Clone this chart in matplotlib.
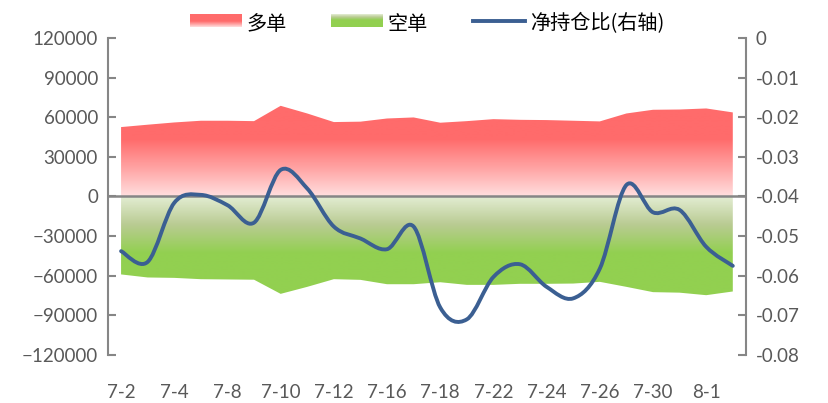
import numpy as np
import matplotlib
matplotlib.use("Agg")
import matplotlib.pyplot as plt
from matplotlib.path import Path
from matplotlib.patches import PathPatch
from matplotlib.colors import LinearSegmentedColormap

plt.rcParams['font.family'] = ['Lato', 'Noto Sans CJK SC', 'DejaVu Sans']

# data
dates = ["7-2", "7-3", "7-4", "7-5", "7-8", "7-9", "7-10", "7-11", "7-12", "7-15",
         "7-16", "7-17", "7-18", "7-19", "7-22", "7-23", "7-24", "7-25", "7-26", "7-29",
         "7-30", "7-31", "8-1", "8-2"]
long_pos = [52500, 54300, 56000, 57300, 57300, 57000, 68600, 62800, 56300, 56600,
            59000, 59800, 55800, 57000, 58500, 58000, 57800, 57300, 56800, 62800,
            65600, 65800, 66600, 63600]
short_pos = [-59000, -61300, -61600, -62600, -62800, -63000, -73700, -68400, -62600, -63100,
             -66400, -66400, -64900, -66900, -66900, -66100, -66100, -65900, -64600, -68400,
             -72400, -72800, -74700, -71900]
net_ratio = [-0.0538, -0.0565, -0.0416, -0.0396, -0.0422, -0.0466, -0.0333, -0.0380, -0.0476, -0.0506,
             -0.0533, -0.0476, -0.0680, -0.0710, -0.0603, -0.0571, -0.0628, -0.0657, -0.0582, -0.0371,
             -0.0440, -0.0434, -0.0527, -0.0575]
legend_labels = ["多单", "空单", "净持仓比(右轴)"]

x = np.arange(len(dates))
grey = "#595959"
axis_grey = "#868686"
line_color = "#3B5F92"

fig = plt.figure(figsize=(8.29, 4.03), dpi=100)
ax = fig.add_axes([0.130, 0.119, 0.770, 0.787])
ax.set_xlim(-0.5, len(dates) - 0.5)
ax.set_ylim(-120000, 120000)

# gradient fills clipped to the area shapes
red_cmap = LinearSegmentedColormap.from_list("r", [(0, "#FFDEDE"), (0.45, "#FFA8A8"), (1, "#FF6B6B")])
green_cmap = LinearSegmentedColormap.from_list("g", [(0, "#E3EDD3"), (0.5, "#B9CB92"), (1, "#92D050")])

def grad_area(vals, cmap, top):
    verts = [(x[0], 0)] + list(zip(x, vals)) + [(x[-1], 0), (x[0], 0)]
    codes = [Path.MOVETO] + [Path.LINETO] * (len(verts) - 2) + [Path.CLOSEPOLY]
    patch = PathPatch(Path(verts, codes), facecolor="none", edgecolor="none", transform=ax.transData)
    ax.add_patch(patch)
    g = np.clip(np.linspace(0, 1, 256) * 120000 / 43000, 0, 1).reshape(-1, 1)
    if top:
        ext = (x[0], x[-1], 0, 120000)
        img = g
    else:
        ext = (x[0], x[-1], -120000, 0)
        img = g[::-1]
    im = ax.imshow(img, cmap=cmap, vmin=0, vmax=1, extent=ext, origin="lower",
                   aspect="auto", interpolation="bilinear", zorder=1)
    im.set_clip_path(patch)

grad_area(long_pos, red_cmap, True)
grad_area(short_pos, green_cmap, False)
ax.axhline(0, color=axis_grey, lw=1.8, zorder=2)

ax.set_yticks(range(-120000, 120001, 30000))
ax.set_xticks(x[::2])
ax.set_xticklabels(dates[::2])
ax.tick_params(axis="y", direction="in", length=6, width=1.5, color=axis_grey,
               labelcolor=grey, labelsize=13.5, pad=7)
ax.tick_params(axis="x", length=0, labelcolor=grey, labelsize=13.5, pad=21)
for s in ["top", "bottom", "right"]:
    ax.spines[s].set_visible(False)
ax.spines["left"].set_color(axis_grey)
ax.spines["left"].set_linewidth(1.5)

# right axis with smoothed line
ax2 = ax.twinx()
ax2.set_ylim(-0.08, 0)
ax2.set_xlim(-0.5, len(dates) - 0.5)
rticks = np.arange(-0.08, 0.001, 0.01).round(2)
ax2.set_yticks(rticks)
ax2.set_yticklabels([f"{v:g}" if v != 0 else "0" for v in rticks])
ax2.tick_params(axis="y", direction="in", length=6, width=1.5, color=axis_grey,
                labelcolor=grey, labelsize=13.5, pad=7)
for s in ["top", "bottom", "left"]:
    ax2.spines[s].set_visible(False)
ax2.spines["right"].set_color(axis_grey)
ax2.spines["right"].set_linewidth(1.5)

pts = np.column_stack([x, net_ratio])
verts = [tuple(pts[0])]
codes = [Path.MOVETO]
n = len(pts)
for i in range(n - 1):
    p0 = pts[max(i - 1, 0)]
    p1 = pts[i]
    p2 = pts[i + 1]
    p3 = pts[min(i + 2, n - 1)]
    c1 = p1 + (p2 - p0) / 6
    c2 = p2 - (p3 - p1) / 6
    verts += [tuple(c1), tuple(c2), tuple(p2)]
    codes += [Path.CURVE4] * 3
ax2.add_patch(PathPatch(Path(verts, codes), facecolor="none", edgecolor=line_color,
                        lw=2.8, capstyle="round", joinstyle="round", zorder=3))

# legend drawn by hand so the swatches can carry the gradients
W, H = 829, 403
def swatch(x0, cmap, flip):
    sax = fig.add_axes([x0 / W, 1 - 27 / H, 52 / W, 13 / H])
    g = np.clip(np.linspace(1, 0, 64) * 2.2, 0, 1).reshape(-1, 1)
    if flip:
        g = g[::-1]
    sax.imshow(g, cmap=cmap, vmin=0, vmax=1, aspect="auto", origin="upper")
    sax.axis("off")

swatch(190, red_cmap, False)
swatch(331, green_cmap, True)
fig.add_artist(plt.Line2D([473 / W, 525 / W], [1 - 21 / H, 1 - 21 / H], color=line_color, lw=2.8))
for xt, lab in zip([246, 387, 530], legend_labels):
    fig.text(xt / W, 1 - 24 / H, lab, fontsize=14.5, va="center", ha="left", color="#000000",
             family=['Noto Sans CJK SC', 'DejaVu Sans'])

fig.savefig("out.png", dpi=100)
